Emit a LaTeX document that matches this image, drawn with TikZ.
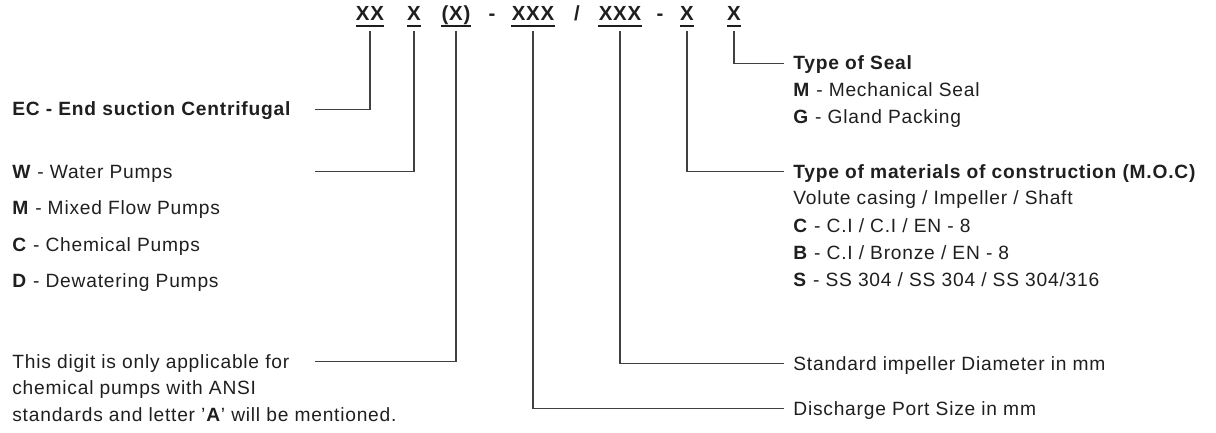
\documentclass[tikz,border=0pt]{standalone}
\usepackage{fontspec}
\setmainfont{Liberation Sans}[LetterSpace=4]
\usetikzlibrary{positioning}
\definecolor{textColor}{rgb}{0.12,0.12,0.12}
\definecolor{edgeColor}{rgb}{0.25,0.25,0.25}

\begin{document}
\begin{tikzpicture}[x=0.5pt,y=-0.5pt]

          \tikzstyle{codeNode} = [font=\fontsize{10.2}{12}\selectfont\bfseries, textColor, inner sep=0pt, text height=7.2pt, text depth=0pt, anchor=base];
          \tikzstyle{labelNode} = [font=\fontsize{9.6}{11}\selectfont, textColor, inner sep=0pt, text height=6.9pt, text depth=0pt, anchor=base west];
          \tikzstyle{titleNode} = [labelNode, font=\fontsize{9.6}{11}\selectfont\bfseries];

          \tikzstyle{linkEdge} = [edgeColor, line width=0.55pt];
          \tikzstyle{underEdge} = [textColor, line width=0.75pt];

          \useasboundingbox (0,0) rectangle (1216,433);

          \node[codeNode] (xx) at (370,21) {XX};
          \node[codeNode] (pumpX) at (414,21) {X};
          \node[codeNode] (ansiX) at (456,21) {(X)};
          \node[codeNode] (dashA) at (492,21) {-};
          \node[codeNode] (portX) at (533,21) {XXX};
          \node[codeNode] (slash) at (577,21) {/};
          \node[codeNode] (impX) at (620,21) {XXX};
          \node[codeNode] (dashB) at (660,21) {-};
          \node[codeNode] (mocX) at (687,21) {X};
          \node[codeNode] (sealX) at (734,21) {X};

          \node[titleNode] (ec) at (12,116) {EC - End suction Centrifugal};
          \node[labelNode] (water) at (12,178) {\textbf{W} - Water Pumps};
          \node[labelNode] (mixed) at (12,214.5) {\textbf{M} - Mixed Flow Pumps};
          \node[labelNode] (chem) at (12,251) {\textbf{C} - Chemical Pumps};
          \node[labelNode] (dewater) at (12,287.5) {\textbf{D} - Dewatering Pumps};
          \node[labelNode] (ansiA) at (12,368) {This digit is only applicable for};
          \node[labelNode] (ansiB) at (12,394.5) {chemical pumps with ANSI};
          \node[labelNode] (ansiC) at (12,421) {standards and letter '\textbf{A}' will be mentioned.};

          \node[titleNode] (seal) at (793,70) {Type of Seal};
          \node[labelNode] (mech) at (793,97) {\textbf{M} - Mechanical Seal};
          \node[labelNode] (gland) at (793,123.5) {\textbf{G} - Gland Packing};
          \node[titleNode] (moc) at (793,178) {Type of materials of construction (M.O.C)};
          \node[labelNode] (volute) at (793,205) {Volute casing / Impeller / Shaft};
          \node[labelNode] (mocC) at (793,232) {\textbf{C} - C.I / C.I / EN - 8};
          \node[labelNode] (mocB) at (793,259) {\textbf{B} - C.I / Bronze / EN - 8};
          \node[labelNode] (mocS) at (793,286) {\textbf{S} - SS 304 / SS 304 / SS 304/316};
          \node[labelNode] (imp) at (793,370) {Standard impeller Diameter in mm};
          \node[labelNode] (port) at (793,415) {Discharge Port Size in mm};

          \coordinate (leftEnd) at (315,0);
          \coordinate (rightEnd) at (784,0);

          \foreach \t in {xx, pumpX, ansiX, portX, impX, mocX, sealX}
            \draw[underEdge] ([yshift=-2.4pt]\t.south west) -- ([yshift=-2.4pt]\t.south east);

          \draw[linkEdge] ([yshift=-5pt]xx.south) |- (ec.west -| leftEnd);
          \draw[linkEdge] ([yshift=-5pt]pumpX.south) |- (water.west -| leftEnd);
          \draw[linkEdge] ([yshift=-5pt]ansiX.south) |- (ansiA.west -| leftEnd);
          \draw[linkEdge] ([yshift=-5pt]portX.south) |- (port.west -| rightEnd);
          \draw[linkEdge] ([yshift=-5pt]impX.south) |- (imp.west -| rightEnd);
          \draw[linkEdge] ([yshift=-5pt]mocX.south) |- (moc.west -| rightEnd);
          \draw[linkEdge] ([yshift=-5pt]sealX.south) |- (seal.west -| rightEnd);
\end{tikzpicture}
\end{document}
